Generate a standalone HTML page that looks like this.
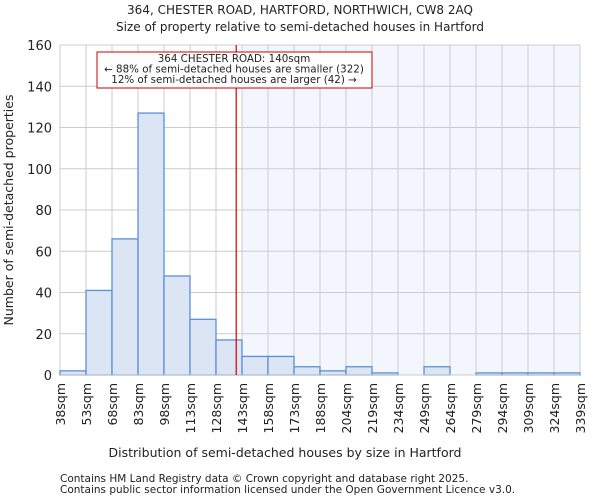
<!DOCTYPE html>
<html><head><meta charset="utf-8"><style>
body{margin:0;background:#fff;font-family:"DejaVu Sans","Liberation Sans",sans-serif;}
svg text{font-family:"DejaVu Sans","Liberation Sans",sans-serif;fill:#222;}
</style></head><body>
<svg id="chart" width="600" height="500">
<text x="300" y="14" font-size="12" text-anchor="middle">364, CHESTER ROAD, HARTFORD, NORTHWICH, CW8 2AQ</text>
<text x="300" y="31" font-size="12" text-anchor="middle">Size of property relative to semi-detached houses in Hartford</text>
<g id="grid"></g><g id="bars"></g><g id="axes"></g>
<text x="285" y="457" font-size="12.5" text-anchor="middle">Distribution of semi-detached houses by size in Hartford</text>
<text transform="translate(13,210) rotate(-90)" font-size="12.5" text-anchor="middle">Number of semi-detached properties</text>
<text x="60" y="482" font-size="10.5" fill="#444">Contains HM Land Registry data © Crown copyright and database right 2025.</text>
<text x="60" y="493" font-size="10.5" fill="#444">Contains public sector information licensed under the Open Government Licence v3.0.</text>
</svg>
<script>
const binLabels=["38sqm","53sqm","68sqm","83sqm","98sqm","113sqm","128sqm","143sqm","158sqm","173sqm","188sqm","204sqm","219sqm","234sqm","249sqm","264sqm","279sqm","294sqm","309sqm","324sqm","339sqm"];
const counts=[2,41,66,127,48,27,17,9,9,4,2,4,1,0,4,0,1,1,1,1];
const yTicks=[0,20,40,60,80,100,120,140,160];
const subjectSize=140;
const binStart=38, binStep=15.05;
const X0=60,X1=580,Y0=375,Y1=45,yMax=160;
const bw=(X1-X0)/counts.length;
const xs=v=>X0+(v-binStart)/binStep*bw;
const ys=v=>Y0-v/yMax*(Y0-Y1);
const NS="http://www.w3.org/2000/svg";
function mk(parent,tag,attrs){const e=document.createElementNS(NS,tag);for(const k in attrs)e.setAttribute(k,attrs[k]);document.getElementById(parent).appendChild(e);return e;}
const shadeStart=X0+Math.ceil((subjectSize-binStart)/binStep)*bw;
let s=mk('grid','rect',{x:shadeStart,y:Y1,width:X1-shadeStart,height:Y0-Y1,fill:'#f3f6fd'});


yTicks.forEach(t=>{let l=mk('grid','line',{x1:X0,x2:X1,y1:ys(t),y2:ys(t),stroke:'#cccccc','stroke-width':1});


let tx=mk('axes','text',{x:X0-8,y:ys(t)+5,'font-size':13,'text-anchor':'end'});tx.textContent=t;

});
binLabels.forEach((b,i)=>{const x=X0+i*bw;let l=mk('grid','line',{x1:x,x2:x,y1:Y1,y2:Y0,stroke:'#cccccc','stroke-width':1});


let tx=mk('axes','text',{transform:`translate(${x+5},${Y0+8}) rotate(-90)`,'font-size':12.5,'text-anchor':'end'});tx.textContent=b;

});
counts.forEach((c,i)=>{if(c<=0)return;let r=mk('bars','rect',{x:X0+i*bw,y:ys(c),width:bw,height:Y0-ys(c),fill:'#dce5f4',stroke:'#5b8fd6','stroke-width':1.3});

});
let ax=mk('axes','line',{x1:X0,x2:X1,y1:Y0,y2:Y0,stroke:'#cccccc'});


const rx=xs(subjectSize);
let rl=mk('axes','line',{x1:rx,x2:rx,y1:Y1,y2:Y0,stroke:'#cc0000','stroke-width':1.2});


let box=mk('axes','rect',{x:97,y:52,width:275,height:36,fill:'#fff',stroke:'#cc0000','stroke-width':1});


["364 CHESTER ROAD: 140sqm","← 88% of semi-detached houses are smaller (322)","12% of semi-detached houses are larger (42) →"].forEach((t,i)=>{let tx=mk('axes','text',{x:234,y:62+i*10.5,'font-size':10.3,'text-anchor':'middle'});tx.textContent=t;

});
</script>
</body></html>
